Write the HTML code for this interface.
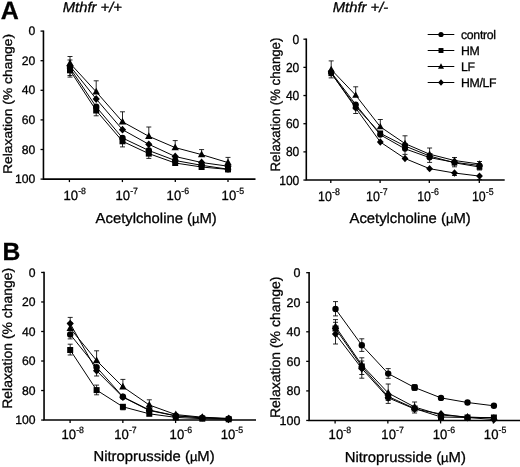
<!DOCTYPE html>
<html><head><meta charset="utf-8"><title>Figure</title>
<style>
html,body{margin:0;padding:0;background:#fff;}
body{width:520px;height:467px;overflow:hidden;}
svg{display:block;will-change:transform;opacity:0.999;filter:blur(0.3px);font-family:"Liberation Sans",sans-serif;fill:#000;text-rendering:geometricPrecision;}
text{stroke:#000;stroke-width:0.3px;}
.axis{fill:none;stroke:#000;stroke-width:1.6;}
.tick{fill:none;stroke:#000;stroke-width:1.3;}
.ln{fill:none;stroke:#000;stroke-width:1.0;}
.eb{fill:none;stroke:#000;stroke-width:0.85;}
</style></head><body>
<svg width="520" height="467" viewBox="0 0 520 467">
<text transform="translate(0.80,18.75) scale(1.0,1)" font-size="25" text-anchor="start" font-weight="bold" font-style="normal" >A</text>
<text transform="translate(2.50,260.30) scale(1.0,1)" font-size="24.7" text-anchor="start" font-weight="bold" font-style="normal" >B</text>
<text transform="translate(62.70,11.60) scale(1.045,1)" font-size="14.2" text-anchor="start" font-weight="normal" font-style="italic" >Mthfr +/+</text>
<text transform="translate(332.70,11.60) scale(1.045,1)" font-size="14.2" text-anchor="start" font-weight="normal" font-style="italic" >Mthfr +/-</text>
<path d="M43.45,30.50 V179.10 H255.50" class="axis"/>
<path d="M40.55,31.10 H43.45" class="tick"/>
<text transform="translate(35.30,35.10) scale(1.0,1)" font-size="12.2" text-anchor="end" font-weight="normal" font-style="normal" >0</text>
<path d="M40.55,60.70 H43.45" class="tick"/>
<text transform="translate(35.30,64.70) scale(1.0,1)" font-size="12.2" text-anchor="end" font-weight="normal" font-style="normal" >20</text>
<path d="M40.55,90.30 H43.45" class="tick"/>
<text transform="translate(35.30,94.30) scale(1.0,1)" font-size="12.2" text-anchor="end" font-weight="normal" font-style="normal" >40</text>
<path d="M40.55,119.90 H43.45" class="tick"/>
<text transform="translate(35.30,123.90) scale(1.0,1)" font-size="12.2" text-anchor="end" font-weight="normal" font-style="normal" >60</text>
<path d="M40.55,149.50 H43.45" class="tick"/>
<text transform="translate(35.30,153.50) scale(1.0,1)" font-size="12.2" text-anchor="end" font-weight="normal" font-style="normal" >80</text>
<path d="M40.55,179.10 H43.45" class="tick"/>
<text transform="translate(35.30,183.10) scale(1.0,1)" font-size="12.2" text-anchor="end" font-weight="normal" font-style="normal" >100</text>
<path d="M69.40,179.10 V182.10" class="tick"/>
<text transform="translate(63.50,200.00) scale(0.97,1)" font-size="13.5">10<tspan font-size="9.07" dy="-5.8" dx="0.1" stroke-width="0.25">-8</tspan></text>
<path d="M122.40,179.10 V182.10" class="tick"/>
<text transform="translate(115.50,200.00) scale(0.97,1)" font-size="13.5">10<tspan font-size="9.07" dy="-5.8" dx="0.1" stroke-width="0.25">-7</tspan></text>
<path d="M175.30,179.10 V182.10" class="tick"/>
<text transform="translate(166.60,200.00) scale(0.97,1)" font-size="13.5">10<tspan font-size="9.07" dy="-5.8" dx="0.1" stroke-width="0.25">-6</tspan></text>
<path d="M228.00,179.10 V182.10" class="tick"/>
<text transform="translate(221.60,200.00) scale(0.97,1)" font-size="13.5">10<tspan font-size="9.07" dy="-5.8" dx="0.1" stroke-width="0.25">-5</tspan></text>
<text transform="translate(12.30,103.95) rotate(-90) scale(1.1,1)" font-size="12.6" text-anchor="middle">Relaxation (% change)</text>
<text transform="translate(95.60,223.20) scale(1.03,1)" font-size="14.4" text-anchor="start" font-weight="normal" font-style="normal" >Acetylcholine (<tspan font-size="12.6">&#181;</tspan>M)</text>
<polyline points="70.00,63.30 96.20,91.80 122.50,121.80 148.80,136.30 175.20,147.60 201.60,154.60 228.00,162.60" class="ln"/>
<polyline points="70.00,66.00 96.20,99.00 122.50,129.70 148.80,144.30 175.20,156.50 201.60,162.50 228.00,166.20" class="ln"/>
<polyline points="70.00,70.30 96.20,110.50 122.50,141.30 148.80,153.60 175.20,163.00 201.60,167.00 228.00,169.40" class="ln"/>
<polyline points="70.00,68.00 96.20,106.80 122.50,138.00 148.80,150.50 175.20,160.50 201.60,165.30 228.00,169.20" class="ln"/>
<path d="M70.00,63.30 V56.50 M67.50,56.50 H72.50" class="eb"/>
<path d="M96.20,91.80 V80.80 M93.70,80.80 H98.70" class="eb"/>
<path d="M122.50,121.80 V111.80 M120.00,111.80 H125.00" class="eb"/>
<path d="M148.80,136.30 V127.00 M146.30,127.00 H151.30" class="eb"/>
<path d="M175.20,147.60 V140.60 M172.70,140.60 H177.70" class="eb"/>
<path d="M201.60,154.60 V149.60 M199.10,149.60 H204.10" class="eb"/>
<path d="M228.00,162.60 V157.40 M225.50,157.40 H230.50" class="eb"/>
<path d="M70.00,66.00 V60.00 M67.50,60.00 H72.50" class="eb"/>
<path d="M70.00,70.30 V77.10 M67.50,77.10 H72.50" class="eb"/>
<path d="M96.20,110.50 V115.80 M93.70,115.80 H98.70" class="eb"/>
<path d="M122.50,141.30 V146.90 M120.00,146.90 H125.00" class="eb"/>
<path d="M148.80,153.60 V158.40 M146.30,158.40 H151.30" class="eb"/>
<path d="M70.00,68.00 V75.50 M67.50,75.50 H72.50" class="eb"/>
<path d="M70.00,59.30 L73.70,65.90 L66.30,65.90Z"/>
<path d="M96.20,87.80 L99.90,94.40 L92.50,94.40Z"/>
<path d="M122.50,117.80 L126.20,124.40 L118.80,124.40Z"/>
<path d="M148.80,132.30 L152.50,138.90 L145.10,138.90Z"/>
<path d="M175.20,143.60 L178.90,150.20 L171.50,150.20Z"/>
<path d="M201.60,150.60 L205.30,157.20 L197.90,157.20Z"/>
<path d="M228.00,158.60 L231.70,165.20 L224.30,165.20Z"/>
<path d="M70.00,62.10 L73.60,66.00 L70.00,69.90 L66.40,66.00Z"/>
<path d="M96.20,95.10 L99.80,99.00 L96.20,102.90 L92.60,99.00Z"/>
<path d="M122.50,125.80 L126.10,129.70 L122.50,133.60 L118.90,129.70Z"/>
<path d="M148.80,140.40 L152.40,144.30 L148.80,148.20 L145.20,144.30Z"/>
<path d="M175.20,152.60 L178.80,156.50 L175.20,160.40 L171.60,156.50Z"/>
<path d="M201.60,158.60 L205.20,162.50 L201.60,166.40 L198.00,162.50Z"/>
<path d="M228.00,162.30 L231.60,166.20 L228.00,170.10 L224.40,166.20Z"/>
<rect x="67.00" y="67.30" width="6.00" height="6.00"/>
<rect x="93.20" y="107.50" width="6.00" height="6.00"/>
<rect x="119.50" y="138.30" width="6.00" height="6.00"/>
<rect x="145.80" y="150.60" width="6.00" height="6.00"/>
<rect x="172.20" y="160.00" width="6.00" height="6.00"/>
<rect x="198.60" y="164.00" width="6.00" height="6.00"/>
<rect x="225.00" y="166.40" width="6.00" height="6.00"/>
<circle cx="70.00" cy="68.00" r="3.20"/>
<circle cx="96.20" cy="106.80" r="3.20"/>
<circle cx="122.50" cy="138.00" r="3.20"/>
<circle cx="148.80" cy="150.50" r="3.20"/>
<circle cx="175.20" cy="160.50" r="3.20"/>
<circle cx="201.60" cy="165.30" r="3.20"/>
<circle cx="228.00" cy="169.20" r="3.20"/>
<path d="M306.30,38.60 V180.05 H504.70" class="axis"/>
<path d="M303.40,39.20 H306.30" class="tick"/>
<text transform="translate(299.30,43.80) scale(0.92,1)" font-size="13.1" text-anchor="end" font-weight="normal" font-style="normal" >0</text>
<path d="M303.40,67.37 H306.30" class="tick"/>
<text transform="translate(299.30,71.97) scale(0.92,1)" font-size="13.1" text-anchor="end" font-weight="normal" font-style="normal" >20</text>
<path d="M303.40,95.54 H306.30" class="tick"/>
<text transform="translate(299.30,100.14) scale(0.92,1)" font-size="13.1" text-anchor="end" font-weight="normal" font-style="normal" >40</text>
<path d="M303.40,123.71 H306.30" class="tick"/>
<text transform="translate(299.30,128.31) scale(0.92,1)" font-size="13.1" text-anchor="end" font-weight="normal" font-style="normal" >60</text>
<path d="M303.40,151.88 H306.30" class="tick"/>
<text transform="translate(299.30,156.48) scale(0.92,1)" font-size="13.1" text-anchor="end" font-weight="normal" font-style="normal" >80</text>
<path d="M303.40,180.05 H306.30" class="tick"/>
<text transform="translate(299.30,184.65) scale(0.92,1)" font-size="13.1" text-anchor="end" font-weight="normal" font-style="normal" >100</text>
<path d="M330.80,180.05 V183.05" class="tick"/>
<text transform="translate(318.10,201.00) scale(0.905,1)" font-size="13.7">10<tspan font-size="9.72" dy="-5.8" dx="0.1" stroke-width="0.25">-8</tspan></text>
<path d="M380.10,180.05 V183.05" class="tick"/>
<text transform="translate(366.00,201.00) scale(0.905,1)" font-size="13.7">10<tspan font-size="9.72" dy="-5.8" dx="0.1" stroke-width="0.25">-7</tspan></text>
<path d="M429.30,180.05 V183.05" class="tick"/>
<text transform="translate(417.20,201.00) scale(0.905,1)" font-size="13.7">10<tspan font-size="9.72" dy="-5.8" dx="0.1" stroke-width="0.25">-6</tspan></text>
<path d="M479.30,180.05 V183.05" class="tick"/>
<text transform="translate(471.90,201.00) scale(0.905,1)" font-size="13.7">10<tspan font-size="9.72" dy="-5.8" dx="0.1" stroke-width="0.25">-5</tspan></text>
<text transform="translate(280.00,104.55) rotate(-90) scale(0.98,1)" font-size="13.5" text-anchor="middle">Relaxation (% change)</text>
<text transform="translate(349.50,223.40) scale(1.03,1)" font-size="14.4" text-anchor="start" font-weight="normal" font-style="normal" >Acetylcholine (<tspan font-size="12.6">&#181;</tspan>M)</text>
<polyline points="331.20,69.50 355.70,95.20 380.30,126.80 405.00,143.60 429.60,154.20 454.50,160.50 479.50,164.00" class="ln"/>
<polyline points="331.20,72.30 355.70,104.50 380.30,134.80 405.00,148.80 429.60,157.60 454.50,162.30 479.50,165.50" class="ln"/>
<polyline points="331.20,73.30 355.70,106.50 380.30,133.30 405.00,146.00 429.60,156.00 454.50,162.80 479.50,167.00" class="ln"/>
<polyline points="331.20,73.00 355.70,108.00 380.30,142.00 405.00,158.50 429.60,168.70 454.50,173.00 479.50,176.10" class="ln"/>
<path d="M331.20,69.50 V60.90 M328.70,60.90 H333.70" class="eb"/>
<path d="M355.70,95.20 V86.80 M353.20,86.80 H358.20" class="eb"/>
<path d="M380.30,126.80 V119.50 M377.80,119.50 H382.80" class="eb"/>
<path d="M405.00,143.60 V135.80 M402.50,135.80 H407.50" class="eb"/>
<path d="M429.60,154.20 V148.00 M427.10,148.00 H432.10" class="eb"/>
<path d="M454.50,160.50 V157.50 M452.00,157.50 H457.00" class="eb"/>
<path d="M479.50,164.00 V161.50 M477.00,161.50 H482.00" class="eb"/>
<path d="M405.00,148.80 V154.40 M402.50,154.40 H407.50" class="eb"/>
<path d="M429.60,157.60 V162.40 M427.10,162.40 H432.10" class="eb"/>
<path d="M331.20,73.30 V77.90 M328.70,77.90 H333.70" class="eb"/>
<path d="M355.70,106.50 V113.50 M353.20,113.50 H358.20" class="eb"/>
<path d="M454.50,162.80 V166.80 M452.00,166.80 H457.00" class="eb"/>
<path d="M479.50,167.00 V170.00 M477.00,170.00 H482.00" class="eb"/>
<path d="M454.50,173.00 V175.50 M452.00,175.50 H457.00" class="eb"/>
<path d="M479.50,176.10 V179.60 M477.00,179.60 H482.00" class="eb"/>
<path d="M331.20,65.74 L334.68,71.94 L327.72,71.94Z"/>
<path d="M355.70,91.44 L359.18,97.64 L352.22,97.64Z"/>
<path d="M380.30,123.04 L383.78,129.24 L376.82,129.24Z"/>
<path d="M405.00,139.84 L408.48,146.04 L401.52,146.04Z"/>
<path d="M429.60,150.44 L433.08,156.64 L426.12,156.64Z"/>
<path d="M454.50,156.74 L457.98,162.94 L451.02,162.94Z"/>
<path d="M479.50,160.24 L482.98,166.44 L476.02,166.44Z"/>
<circle cx="331.20" cy="72.30" r="3.01"/>
<circle cx="355.70" cy="104.50" r="3.01"/>
<circle cx="380.30" cy="134.80" r="3.01"/>
<circle cx="405.00" cy="148.80" r="3.01"/>
<circle cx="429.60" cy="157.60" r="3.01"/>
<circle cx="454.50" cy="162.30" r="3.01"/>
<circle cx="479.50" cy="165.50" r="3.01"/>
<rect x="328.38" y="70.48" width="5.64" height="5.64"/>
<rect x="352.88" y="103.68" width="5.64" height="5.64"/>
<rect x="377.48" y="130.48" width="5.64" height="5.64"/>
<rect x="402.18" y="143.18" width="5.64" height="5.64"/>
<rect x="426.78" y="153.18" width="5.64" height="5.64"/>
<rect x="451.68" y="159.98" width="5.64" height="5.64"/>
<rect x="476.68" y="164.18" width="5.64" height="5.64"/>
<path d="M331.20,69.33 L334.58,73.00 L331.20,76.67 L327.82,73.00Z"/>
<path d="M355.70,104.33 L359.08,108.00 L355.70,111.67 L352.32,108.00Z"/>
<path d="M380.30,138.33 L383.68,142.00 L380.30,145.67 L376.92,142.00Z"/>
<path d="M405.00,154.83 L408.38,158.50 L405.00,162.17 L401.62,158.50Z"/>
<path d="M429.60,165.03 L432.98,168.70 L429.60,172.37 L426.22,168.70Z"/>
<path d="M454.50,169.33 L457.88,173.00 L454.50,176.67 L451.12,173.00Z"/>
<path d="M479.50,172.43 L482.88,176.10 L479.50,179.77 L476.12,176.10Z"/>
<path d="M427.7,34.50 H454.3" class="ln"/>
<circle cx="441.00" cy="34.50" r="2.62"/>
<text transform="translate(461.00,38.60) scale(0.99,1)" font-size="12.4" text-anchor="start" font-weight="normal" font-style="normal" letter-spacing="-0.3">control</text>
<path d="M427.7,50.50 H454.3" class="ln"/>
<rect x="438.54" y="48.04" width="4.92" height="4.92"/>
<text transform="translate(461.00,54.60) scale(0.99,1)" font-size="12.4" text-anchor="start" font-weight="normal" font-style="normal" letter-spacing="-0.3">HM</text>
<path d="M427.7,66.50 H454.3" class="ln"/>
<path d="M441.00,63.22 L444.03,68.63 L437.97,68.63Z"/>
<text transform="translate(461.00,70.60) scale(0.99,1)" font-size="12.4" text-anchor="start" font-weight="normal" font-style="normal" letter-spacing="-0.3">LF</text>
<path d="M427.7,82.50 H454.3" class="ln"/>
<path d="M441.00,79.30 L443.95,82.50 L441.00,85.70 L438.05,82.50Z"/>
<text transform="translate(461.00,86.60) scale(0.99,1)" font-size="12.4" text-anchor="start" font-weight="normal" font-style="normal" letter-spacing="-0.3">HM/LF</text>
<path d="M44.05,271.85 V420.05 H256.00" class="axis"/>
<path d="M41.15,272.45 H44.05" class="tick"/>
<text transform="translate(35.60,276.65) scale(1.0,1)" font-size="12.2" text-anchor="end" font-weight="normal" font-style="normal" >0</text>
<path d="M41.15,301.97 H44.05" class="tick"/>
<text transform="translate(35.60,306.17) scale(1.0,1)" font-size="12.2" text-anchor="end" font-weight="normal" font-style="normal" >20</text>
<path d="M41.15,331.49 H44.05" class="tick"/>
<text transform="translate(35.60,335.69) scale(1.0,1)" font-size="12.2" text-anchor="end" font-weight="normal" font-style="normal" >40</text>
<path d="M41.15,361.01 H44.05" class="tick"/>
<text transform="translate(35.60,365.21) scale(1.0,1)" font-size="12.2" text-anchor="end" font-weight="normal" font-style="normal" >60</text>
<path d="M41.15,390.53 H44.05" class="tick"/>
<text transform="translate(35.60,394.73) scale(1.0,1)" font-size="12.2" text-anchor="end" font-weight="normal" font-style="normal" >80</text>
<path d="M41.15,420.05 H44.05" class="tick"/>
<text transform="translate(35.60,424.25) scale(1.0,1)" font-size="12.2" text-anchor="end" font-weight="normal" font-style="normal" >100</text>
<path d="M70.10,420.05 V423.05" class="tick"/>
<text transform="translate(61.50,438.75) scale(0.97,1)" font-size="13.5">10<tspan font-size="9.07" dy="-5.8" dx="0.1" stroke-width="0.25">-8</tspan></text>
<path d="M122.85,420.05 V423.05" class="tick"/>
<text transform="translate(114.25,438.75) scale(0.97,1)" font-size="13.5">10<tspan font-size="9.07" dy="-5.8" dx="0.1" stroke-width="0.25">-7</tspan></text>
<path d="M175.60,420.05 V423.05" class="tick"/>
<text transform="translate(169.60,438.75) scale(0.97,1)" font-size="13.5">10<tspan font-size="9.07" dy="-5.8" dx="0.1" stroke-width="0.25">-6</tspan></text>
<path d="M228.40,420.05 V423.05" class="tick"/>
<text transform="translate(220.70,438.75) scale(0.97,1)" font-size="13.5">10<tspan font-size="9.07" dy="-5.8" dx="0.1" stroke-width="0.25">-5</tspan></text>
<text transform="translate(12.10,338.30) rotate(-90) scale(1.018,1)" font-size="13.7" text-anchor="middle">Relaxation (% change)</text>
<text transform="translate(93.50,460.80) scale(1.03,1)" font-size="14.4" text-anchor="start" font-weight="normal" font-style="normal" >Nitroprusside (<tspan font-size="12.6">&#181;</tspan>M)</text>
<polyline points="70.20,350.00 96.60,390.10 122.90,406.80 149.30,413.80 175.80,417.40 202.30,418.70 228.70,419.30" class="ln"/>
<polyline points="70.20,328.30 96.60,360.60 122.90,386.80 149.30,405.00 175.80,414.60 202.30,417.20 228.70,418.40" class="ln"/>
<polyline points="70.20,334.40 96.60,367.20 122.90,396.80 149.30,410.00 175.80,415.80 202.30,417.90 228.70,418.80" class="ln"/>
<polyline points="70.20,323.60 96.60,370.70 122.90,397.20 149.30,410.50 175.80,415.90 202.30,417.70 228.70,418.80" class="ln"/>
<path d="M70.20,350.00 V344.20 M67.70,344.20 H72.70" class="eb"/>
<path d="M70.20,350.00 V355.00 M67.70,355.00 H72.70" class="eb"/>
<path d="M96.60,390.10 V385.10 M94.10,385.10 H99.10" class="eb"/>
<path d="M96.60,390.10 V394.80 M94.10,394.80 H99.10" class="eb"/>
<path d="M122.90,406.80 V409.80 M120.40,409.80 H125.40" class="eb"/>
<path d="M70.20,328.30 V322.80 M67.70,322.80 H72.70" class="eb"/>
<path d="M96.60,360.60 V350.80 M94.10,350.80 H99.10" class="eb"/>
<path d="M122.90,386.80 V379.40 M120.40,379.40 H125.40" class="eb"/>
<path d="M149.30,405.00 V399.80 M146.80,399.80 H151.80" class="eb"/>
<path d="M70.20,334.40 V338.90 M67.70,338.90 H72.70" class="eb"/>
<path d="M70.20,323.60 V317.40 M67.70,317.40 H72.70" class="eb"/>
<path d="M96.60,370.70 V376.00 M94.10,376.00 H99.10" class="eb"/>
<rect x="67.20" y="347.00" width="6.00" height="6.00"/>
<rect x="93.60" y="387.10" width="6.00" height="6.00"/>
<rect x="119.90" y="403.80" width="6.00" height="6.00"/>
<rect x="146.30" y="410.80" width="6.00" height="6.00"/>
<rect x="172.80" y="414.40" width="6.00" height="6.00"/>
<rect x="199.30" y="415.70" width="6.00" height="6.00"/>
<rect x="225.70" y="416.30" width="6.00" height="6.00"/>
<path d="M70.20,324.30 L73.90,330.90 L66.50,330.90Z"/>
<path d="M96.60,356.60 L100.30,363.20 L92.90,363.20Z"/>
<path d="M122.90,382.80 L126.60,389.40 L119.20,389.40Z"/>
<path d="M149.30,401.00 L153.00,407.60 L145.60,407.60Z"/>
<path d="M175.80,410.60 L179.50,417.20 L172.10,417.20Z"/>
<path d="M202.30,413.20 L206.00,419.80 L198.60,419.80Z"/>
<path d="M228.70,414.40 L232.40,421.00 L225.00,421.00Z"/>
<circle cx="70.20" cy="334.40" r="3.20"/>
<circle cx="96.60" cy="367.20" r="3.20"/>
<circle cx="122.90" cy="396.80" r="3.20"/>
<circle cx="149.30" cy="410.00" r="3.20"/>
<circle cx="175.80" cy="415.80" r="3.20"/>
<circle cx="202.30" cy="417.90" r="3.20"/>
<circle cx="228.70" cy="418.80" r="3.20"/>
<path d="M70.20,319.70 L73.80,323.60 L70.20,327.50 L66.60,323.60Z"/>
<path d="M96.60,366.80 L100.20,370.70 L96.60,374.60 L93.00,370.70Z"/>
<path d="M122.90,393.30 L126.50,397.20 L122.90,401.10 L119.30,397.20Z"/>
<path d="M149.30,406.60 L152.90,410.50 L149.30,414.40 L145.70,410.50Z"/>
<path d="M175.80,412.00 L179.40,415.90 L175.80,419.80 L172.20,415.90Z"/>
<path d="M202.30,413.80 L205.90,417.70 L202.30,421.60 L198.70,417.70Z"/>
<path d="M228.70,414.90 L232.30,418.80 L228.70,422.70 L225.10,418.80Z"/>
<path d="M309.10,272.10 V420.45 H520.00" class="axis"/>
<path d="M306.20,272.70 H309.10" class="tick"/>
<text transform="translate(300.40,277.10) scale(1.0,1)" font-size="12.5" text-anchor="end" font-weight="normal" font-style="normal" >0</text>
<path d="M306.20,302.25 H309.10" class="tick"/>
<text transform="translate(300.40,306.65) scale(1.0,1)" font-size="12.5" text-anchor="end" font-weight="normal" font-style="normal" >20</text>
<path d="M306.20,331.80 H309.10" class="tick"/>
<text transform="translate(300.40,336.20) scale(1.0,1)" font-size="12.5" text-anchor="end" font-weight="normal" font-style="normal" >40</text>
<path d="M306.20,361.35 H309.10" class="tick"/>
<text transform="translate(300.40,365.75) scale(1.0,1)" font-size="12.5" text-anchor="end" font-weight="normal" font-style="normal" >60</text>
<path d="M306.20,390.90 H309.10" class="tick"/>
<text transform="translate(300.40,395.30) scale(1.0,1)" font-size="12.5" text-anchor="end" font-weight="normal" font-style="normal" >80</text>
<path d="M306.20,420.45 H309.10" class="tick"/>
<text transform="translate(300.40,424.85) scale(1.0,1)" font-size="12.5" text-anchor="end" font-weight="normal" font-style="normal" >100</text>
<path d="M335.10,420.45 V423.45" class="tick"/>
<text transform="translate(328.60,438.90) scale(0.97,1)" font-size="13.5">10<tspan font-size="9.07" dy="-5.8" dx="0.1" stroke-width="0.25">-8</tspan></text>
<path d="M387.85,420.45 V423.45" class="tick"/>
<text transform="translate(381.35,438.90) scale(0.97,1)" font-size="13.5">10<tspan font-size="9.07" dy="-5.8" dx="0.1" stroke-width="0.25">-7</tspan></text>
<path d="M440.60,420.45 V423.45" class="tick"/>
<text transform="translate(432.70,438.90) scale(0.97,1)" font-size="13.5">10<tspan font-size="9.07" dy="-5.8" dx="0.1" stroke-width="0.25">-6</tspan></text>
<path d="M493.35,420.45 V423.45" class="tick"/>
<text transform="translate(483.85,438.90) scale(0.97,1)" font-size="13.5">10<tspan font-size="9.07" dy="-5.8" dx="0.1" stroke-width="0.25">-5</tspan></text>
<text transform="translate(280.10,347.30) rotate(-90) scale(1.014,1)" font-size="13.8" text-anchor="middle">Relaxation (% change)</text>
<text transform="translate(344.70,461.50) scale(1.03,1)" font-size="14.4" text-anchor="start" font-weight="normal" font-style="normal" >Nitroprusside (<tspan font-size="12.6">&#181;</tspan>M)</text>
<polyline points="335.50,309.00 361.80,345.20 388.20,373.60 414.60,387.50 441.00,397.90 467.50,402.50 493.90,405.80" class="ln"/>
<polyline points="335.50,326.50 361.80,365.00 388.20,393.00 414.60,407.00 441.00,415.00 467.50,417.00 493.90,418.00" class="ln"/>
<polyline points="335.50,328.50 361.80,366.50 388.20,396.50 414.60,408.50 441.00,417.00 467.50,417.50 493.90,417.50" class="ln"/>
<polyline points="335.50,334.00 361.80,368.50 388.20,397.80 414.60,409.00 441.00,414.00 467.50,417.50 493.90,419.50" class="ln"/>
<path d="M335.50,309.00 V301.60 M333.00,301.60 H338.00" class="eb"/>
<path d="M335.50,309.00 V315.90 M333.00,315.90 H338.00" class="eb"/>
<path d="M361.80,345.20 V338.80 M359.30,338.80 H364.30" class="eb"/>
<path d="M361.80,345.20 V351.40 M359.30,351.40 H364.30" class="eb"/>
<path d="M388.20,373.60 V368.60 M385.70,368.60 H390.70" class="eb"/>
<path d="M388.20,373.60 V378.30 M385.70,378.30 H390.70" class="eb"/>
<path d="M414.60,387.50 V385.10 M412.10,385.10 H417.10" class="eb"/>
<path d="M414.60,387.50 V389.90 M412.10,389.90 H417.10" class="eb"/>
<path d="M335.50,326.50 V319.60 M333.00,319.60 H338.00" class="eb"/>
<path d="M361.80,365.00 V357.80 M359.30,357.80 H364.30" class="eb"/>
<path d="M388.20,393.00 V384.00 M385.70,384.00 H390.70" class="eb"/>
<path d="M414.60,407.00 V402.00 M412.10,402.00 H417.10" class="eb"/>
<path d="M335.50,328.50 V322.30 M333.00,322.30 H338.00" class="eb"/>
<path d="M361.80,366.50 V361.00 M359.30,361.00 H364.30" class="eb"/>
<path d="M361.80,366.50 V374.50 M359.30,374.50 H364.30" class="eb"/>
<path d="M388.20,396.50 V400.50 M385.70,400.50 H390.70" class="eb"/>
<path d="M335.50,334.00 V344.00 M333.00,344.00 H338.00" class="eb"/>
<path d="M361.80,368.50 V378.20 M359.30,378.20 H364.30" class="eb"/>
<path d="M388.20,397.80 V403.40 M385.70,403.40 H390.70" class="eb"/>
<path d="M414.60,409.00 V413.00 M412.10,413.00 H417.10" class="eb"/>
<circle cx="335.50" cy="309.00" r="3.20"/>
<circle cx="361.80" cy="345.20" r="3.20"/>
<circle cx="388.20" cy="373.60" r="3.20"/>
<circle cx="414.60" cy="387.50" r="3.20"/>
<circle cx="441.00" cy="397.90" r="3.20"/>
<circle cx="467.50" cy="402.50" r="3.20"/>
<circle cx="493.90" cy="405.80" r="3.20"/>
<path d="M335.50,322.50 L339.20,329.10 L331.80,329.10Z"/>
<path d="M361.80,361.00 L365.50,367.60 L358.10,367.60Z"/>
<path d="M388.20,389.00 L391.90,395.60 L384.50,395.60Z"/>
<path d="M414.60,403.00 L418.30,409.60 L410.90,409.60Z"/>
<path d="M441.00,411.00 L444.70,417.60 L437.30,417.60Z"/>
<path d="M467.50,413.00 L471.20,419.60 L463.80,419.60Z"/>
<path d="M493.90,414.00 L497.60,420.60 L490.20,420.60Z"/>
<rect x="332.50" y="325.50" width="6.00" height="6.00"/>
<rect x="358.80" y="363.50" width="6.00" height="6.00"/>
<rect x="385.20" y="393.50" width="6.00" height="6.00"/>
<rect x="411.60" y="405.50" width="6.00" height="6.00"/>
<rect x="438.00" y="414.00" width="6.00" height="6.00"/>
<rect x="464.50" y="414.50" width="6.00" height="6.00"/>
<rect x="490.90" y="414.50" width="6.00" height="6.00"/>
<path d="M335.50,330.10 L339.10,334.00 L335.50,337.90 L331.90,334.00Z"/>
<path d="M361.80,364.60 L365.40,368.50 L361.80,372.40 L358.20,368.50Z"/>
<path d="M388.20,393.90 L391.80,397.80 L388.20,401.70 L384.60,397.80Z"/>
<path d="M414.60,405.10 L418.20,409.00 L414.60,412.90 L411.00,409.00Z"/>
<path d="M441.00,410.10 L444.60,414.00 L441.00,417.90 L437.40,414.00Z"/>
<path d="M467.50,413.60 L471.10,417.50 L467.50,421.40 L463.90,417.50Z"/>
<path d="M493.90,415.60 L497.50,419.50 L493.90,423.40 L490.30,419.50Z"/>
<rect x="411.55" y="384.2" width="6.1" height="6.6" rx="1.3"/>
</svg>
</body></html>
